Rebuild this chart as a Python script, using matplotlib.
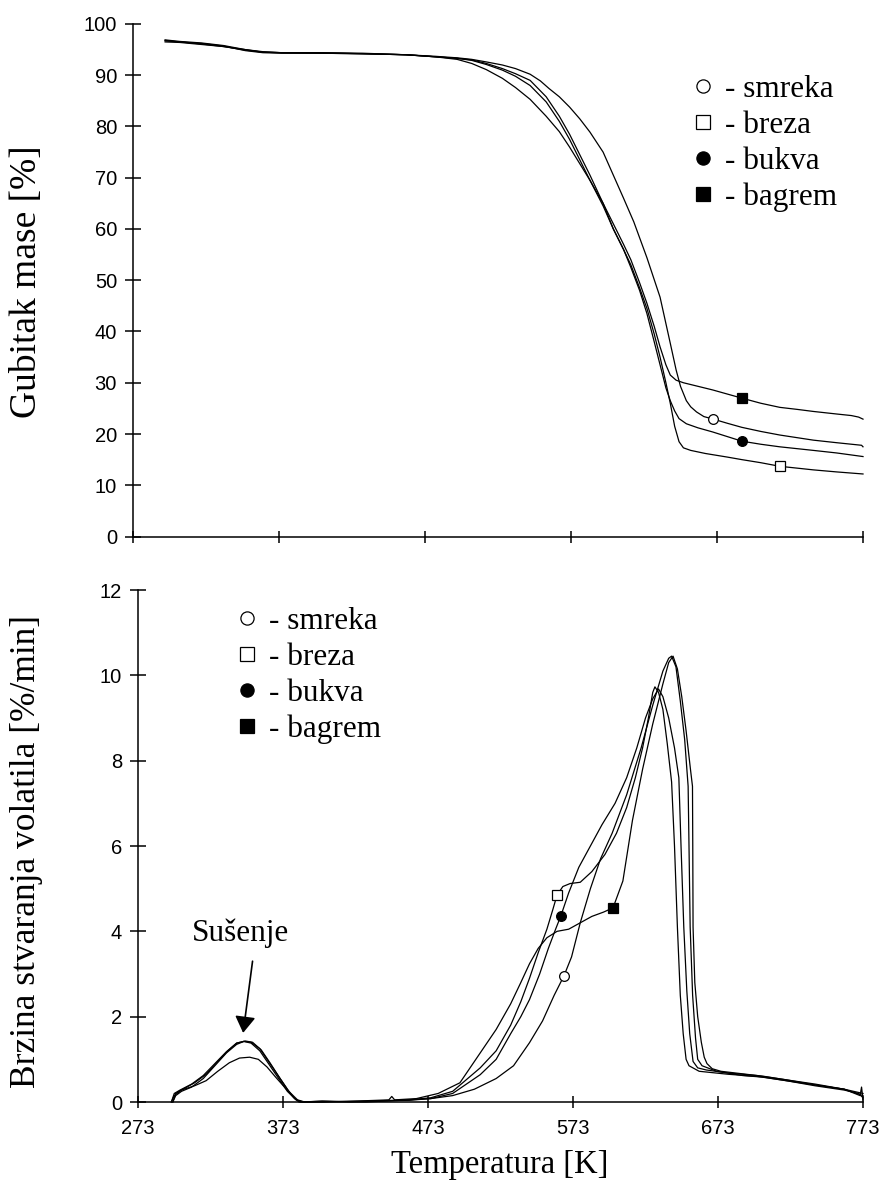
import matplotlib
matplotlib.use("Agg")
import matplotlib.pyplot as plt
from matplotlib.lines import Line2D

# ---- TG: mass loss [%] vs temperature [K] ----
tg_smreka_T = [295, 305, 320, 335, 350, 362, 375, 400, 430, 460, 480, 495, 505, 515, 526, 535, 545, 552, 558, 565, 572, 579, 586, 595, 602, 609, 616, 625, 634, 641, 645, 648, 652, 655, 659, 664, 670.5, 680, 690, 703, 716, 739, 755, 772, 773]
tg_smreka = [96.9, 96.6, 96.3, 95.8, 95.0, 94.5, 94.4, 94.4, 94.3, 94.0, 93.7, 93.4, 93.1, 92.6, 92.0, 91.3, 90.2, 88.9, 87.4, 85.8, 83.8, 81.5, 78.9, 75.0, 70.5, 66.0, 61.4, 54.4, 46.7, 37.7, 32.5, 29.3, 26.5, 25.3, 24.3, 23.4, 22.9, 22.1, 21.3, 20.5, 19.8, 18.8, 18.3, 17.8, 17.5]

tg_breza_T = [295, 305, 320, 335, 350, 362, 375, 400, 430, 460, 480, 495, 505, 515, 526, 535, 545, 556, 565, 572, 586, 595, 602, 609, 614, 620, 625, 630, 634, 638, 641, 644, 647, 650, 655, 665, 680, 690, 703, 716, 739, 755, 773]
tg_breza = [96.8, 96.5, 96.2, 95.7, 94.8, 94.4, 94.3, 94.3, 94.2, 94.0, 93.6, 93.3, 92.9, 92.1, 91.0, 89.8, 88.0, 84.8, 81.0, 77.5, 69.5, 64.5, 60.0, 56.0, 53.0, 48.5, 44.5, 39.5, 35.0, 30.0, 26.0, 21.5, 18.5, 17.3, 16.8, 16.2, 15.5, 15.0, 14.4, 13.7, 13.0, 12.6, 12.2]

tg_bukva_T = [295, 305, 320, 335, 350, 362, 375, 400, 430, 460, 480, 495, 505, 515, 526, 535, 545, 556, 565, 572, 586, 595, 602, 609, 614, 620, 625, 630, 634, 638, 641, 644, 647, 652, 660, 670, 680, 690, 703, 716, 739, 755, 773]
tg_bukva = [96.7, 96.5, 96.1, 95.6, 94.9, 94.5, 94.4, 94.4, 94.2, 94.0, 93.6, 93.3, 93.0, 92.3, 91.3, 90.3, 89.0, 85.8, 82.0, 78.5, 70.5, 65.0, 60.0, 56.0, 52.5, 48.0, 43.5, 38.0, 33.5, 29.0, 26.5, 24.5, 23.0, 22.0, 21.2, 20.4, 19.5, 18.6, 18.0, 17.5, 16.8, 16.3, 15.6]

tg_bagrem_T = [295, 305, 320, 335, 350, 362, 375, 400, 430, 460, 480, 495, 505, 515, 526, 535, 545, 556, 565, 572, 586, 595, 602, 609, 614, 620, 625, 630, 634, 638, 641, 645, 650, 660, 670, 680, 690, 703, 716, 728, 739, 755, 765, 770, 773]
tg_bagrem = [96.5, 96.4, 96.0, 95.6, 95.0, 94.6, 94.4, 94.3, 94.2, 94.0, 93.6, 93.1, 92.3, 91.1, 89.4, 87.6, 85.3, 82.0, 79.0, 76.0, 69.5, 65.0, 61.0, 57.0, 54.0, 49.5, 45.5, 41.0, 37.0, 33.5, 31.5, 30.5, 30.0, 29.3, 28.6, 27.8, 27.0, 26.0, 25.2, 24.8, 24.4, 23.9, 23.6, 23.3, 22.9]

# marker positions on the TG curves
tg_mark_T = {"smreka": 670.5, "breza": 716, "bukva": 690, "bagrem": 690}
tg_mark_v = {"smreka": 22.9, "breza": 13.7, "bukva": 18.6, "bagrem": 27.0}

# ---- DTG: rate of volatiles [%/min] vs temperature [K] ----
dtg_smreka_T = [297, 299, 303, 310, 318, 326, 334, 341, 346, 351, 357, 363, 370, 376, 381, 385, 400, 420, 440, 460, 475, 490, 505, 520, 532, 543, 552, 560, 566.8, 572, 578, 585, 592, 600, 610, 620, 628, 635, 639, 641, 644, 647, 650, 652.4, 653, 653.8, 655.5, 657.5, 659, 662, 672, 690, 705, 720, 740, 760, 770, 773]
dtg_smreka = [0.0, 0.15, 0.25, 0.35, 0.55, 0.85, 1.15, 1.35, 1.42, 1.4, 1.25, 0.95, 0.6, 0.3, 0.08, 0.0, 0.02, 0.0, 0.03, 0.05, 0.08, 0.15, 0.3, 0.55, 0.85, 1.39, 1.9, 2.5, 2.96, 3.4, 4.2, 5.0, 5.7, 6.3, 7.2, 8.3, 9.3, 10.1, 10.4, 10.45, 10.2, 9.4, 8.5, 7.4, 6.0, 4.1, 2.5, 1.5, 1.0, 0.85, 0.72, 0.62, 0.58, 0.5, 0.38, 0.28, 0.2, 0.1]

dtg_breza_T = [297, 299, 304, 312, 320, 328, 335, 341, 346, 351, 357, 363, 370, 376, 382, 387, 400, 430, 460, 475, 490, 509, 520, 530, 537, 543, 549, 555, 559, 562, 566, 571, 578, 586, 595, 603, 610, 616, 621, 625, 628, 629.5, 632, 635, 638, 641, 643, 645, 647, 649, 651, 653, 660, 680, 700, 720, 740, 760, 773]
dtg_breza = [0.0, 0.2, 0.3, 0.45, 0.65, 0.95, 1.2, 1.38, 1.42, 1.38, 1.2, 0.9, 0.55, 0.25, 0.05, 0.0, 0.02, 0.0, 0.05, 0.1, 0.25, 0.8, 1.2, 1.8, 2.35, 2.9, 3.5, 4.05, 4.5, 4.85, 5.05, 5.12, 5.15, 5.4, 5.8, 6.3, 6.9, 7.6, 8.3, 9.0, 9.6, 9.73, 9.6, 9.2, 8.4, 7.5, 6.0, 4.1, 2.5, 1.6, 1.0, 0.85, 0.72, 0.65, 0.6, 0.5, 0.4, 0.3, 0.15]

dtg_bukva_T = [296, 298, 302, 310, 318, 326, 334, 341, 347, 352, 358, 364, 371, 377, 383, 388, 400, 430, 460, 475, 490, 509, 520, 530, 537, 543, 550, 556, 561, 564.6, 570, 577, 585, 593, 602, 610, 617, 623, 628, 632, 635, 639, 643, 646, 647.5, 649.4, 651.5, 653.5, 655.8, 659, 665, 680, 700, 720, 740, 760, 771, 772, 773]
dtg_bukva = [0.0, 0.2, 0.28, 0.42, 0.62, 0.9, 1.18, 1.38, 1.43, 1.4, 1.22, 0.92, 0.55, 0.25, 0.05, 0.0, 0.0, 0.02, 0.04, 0.08, 0.2, 0.64, 1.0, 1.6, 2.0, 2.4, 3.0, 3.6, 4.05, 4.36, 4.9, 5.5, 6.0, 6.5, 7.0, 7.6, 8.3, 9.0, 9.45, 9.68, 9.5, 9.0, 8.3, 7.6, 6.0, 4.1, 2.6, 1.6, 0.95, 0.8, 0.75, 0.68, 0.62, 0.52, 0.4, 0.3, 0.15, 0.35, 0.05]

dtg_bagrem_T = [296, 298, 303, 312, 320, 328, 336, 343, 350, 356, 362, 368, 374, 380, 384, 400, 430, 446, 448, 450, 465, 480, 495, 509, 520, 530, 537, 543, 549, 555, 562, 570, 578, 586, 594, 600.6, 607.4, 614, 621, 628, 635, 639, 642, 645, 648, 651, 654, 655.4, 655.6, 655.8, 657, 659, 661.5, 663.5, 665.4, 669, 675, 690, 705, 720, 740, 760, 773]
dtg_bagrem = [0.0, 0.15, 0.28, 0.38, 0.5, 0.72, 0.92, 1.03, 1.05, 1.0, 0.82, 0.58, 0.35, 0.12, 0.0, 0.0, 0.03, 0.05, 0.13, 0.05, 0.08, 0.2, 0.45, 1.15, 1.7, 2.3, 2.8, 3.24, 3.6, 3.85, 4.0, 4.05, 4.2, 4.35, 4.45, 4.55, 5.18, 6.6, 7.8, 8.86, 9.8, 10.3, 10.45, 10.15, 9.5, 8.7, 7.8, 7.4, 6.0, 4.1, 2.8, 2.0, 1.4, 1.05, 0.9, 0.78, 0.72, 0.66, 0.6, 0.52, 0.42, 0.3, 0.2]

dtg_mark_T = {"smreka": 566.8, "breza": 562, "bukva": 564.6, "bagrem": 600.6}
dtg_mark_v = {"smreka": 2.96, "breza": 4.85, "bukva": 4.36, "bagrem": 4.55}

species = ["smreka", "breza", "bukva", "bagrem"]
marker = {"smreka": "o", "breza": "s", "bukva": "o", "bagrem": "s"}
face = {"smreka": "white", "breza": "white", "bukva": "black", "bagrem": "black"}

x_ticks = [273, 373, 473, 573, 673, 773]

plt.rcParams['font.family'] = 'Liberation Sans'
SERIF = 'Liberation Serif'
LW = 0.9
MS = 7

fig = plt.figure(figsize=(8.82, 11.8), dpi=100)
ax1 = fig.add_axes([133 / 882, 1 - 536.5 / 1180, 730 / 882, 512.5 / 1180])
ax2 = fig.add_axes([138 / 882, 1 - 1102 / 1180, 725 / 882, 512 / 1180])

tg = {"smreka": (tg_smreka_T, tg_smreka), "breza": (tg_breza_T, tg_breza),
      "bukva": (tg_bukva_T, tg_bukva), "bagrem": (tg_bagrem_T, tg_bagrem)}
dtg = {"smreka": (dtg_smreka_T, dtg_smreka), "breza": (dtg_breza_T, dtg_breza),
       "bukva": (dtg_bukva_T, dtg_bukva), "bagrem": (dtg_bagrem_T, dtg_bagrem)}

for s in species:
    ax1.plot(tg[s][0], tg[s][1], color="black", lw=LW, clip_on=False)
    ax1.plot([tg_mark_T[s]], [tg_mark_v[s]], ls="none", marker=marker[s], ms=MS,
             mfc=face[s], mec="black", mew=0.9, clip_on=False, zorder=5)
    ax2.plot(dtg[s][0], dtg[s][1], color="black", lw=LW, clip_on=False)
    ax2.plot([dtg_mark_T[s]], [dtg_mark_v[s]], ls="none", marker=marker[s], ms=MS,
             mfc=face[s], mec="black", mew=0.9, clip_on=False, zorder=5)

for ax in (ax1, ax2):
    ax.set_xlim(273, 773)
    ax.set_xticks(x_ticks)
    for side in ("top", "right"):
        ax.spines[side].set_visible(False)
    for side in ("left", "bottom"):
        ax.spines[side].set_linewidth(1.1)
    ax.tick_params(axis="y", direction="inout", length=11, width=1.1, pad=6, labelsize=14.5)
    ax.tick_params(axis="x", direction="inout", length=9, width=1.1, pad=8, labelsize=14.5)

ax1.set_ylim(0, 100)
ax1.set_yticks(range(0, 101, 10))
ax1.set_xticklabels([])
ax2.set_ylim(0, 12)
ax2.set_yticks(range(0, 13, 2))

fig.text(27 / 882, 1 - 282 / 1180, "Gubitak mase [%]", rotation=90, ha="center",
         va="center", family=SERIF, fontsize=27)
fig.text(27 / 882, 1 - 852 / 1180, "Brzina stvaranja volatila [%/min]", rotation=90,
         ha="center", va="center", family=SERIF, fontsize=25.5)
fig.text(500 / 882, 1 - 1173 / 1180, "Temperatura [K]", ha="center", va="baseline",
         family=SERIF, fontsize=23.5)

# legends
handles = [Line2D([], [], ls="none", marker=marker[s], ms=9.5, mfc=face[s], mec="black", mew=0.9)
           for s in species]
labels = ["- " + s for s in species]
for ax, (lx, ty) in ((ax1, (694, 75)), (ax2, (238, 607))):
    ax.legend(handles, labels, loc="upper left", bbox_to_anchor=(lx / 882, 1 - ty / 1180),
              bbox_transform=fig.transFigure, frameon=False, borderpad=0, borderaxespad=0,
              handlelength=0.6, handletextpad=0.4, labelspacing=0.22,
              prop={"family": SERIF, "size": 22.5})

ax2.text(344, 3.96, "Sušenje", ha="center", va="center", family=SERIF, fontsize=22.5)
ax2.annotate("", xy=(345.5, 1.62), xytext=(352, 3.3),
             arrowprops=dict(arrowstyle="-|>,head_length=0.4,head_width=0.25",
                             color="black", lw=1.2, mutation_scale=25, shrinkA=0, shrinkB=0))

fig.savefig("out.png", dpi=100)
